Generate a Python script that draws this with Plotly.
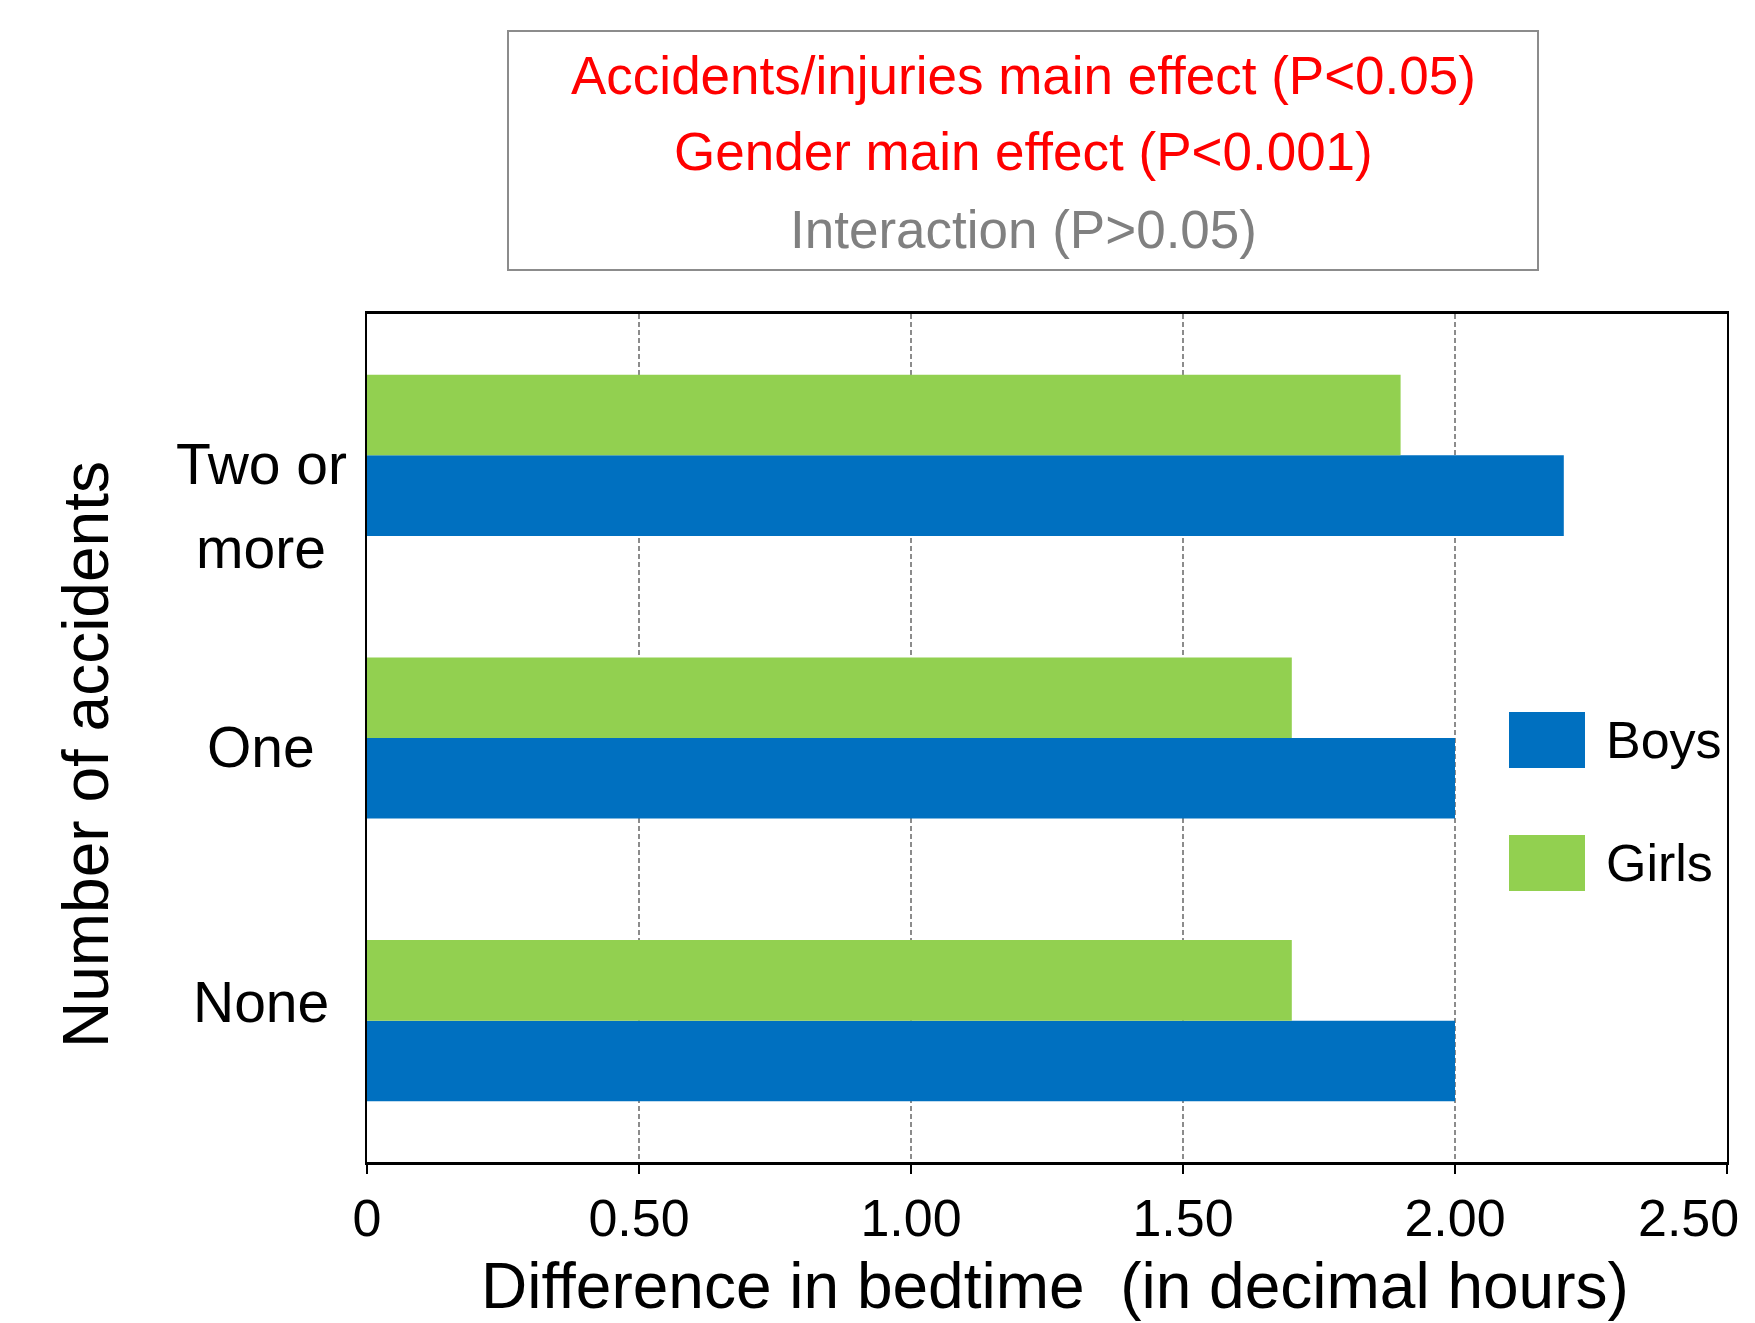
import plotly.graph_objects as go

# ---- data ----
categories = ["None", "One", "Two or more"]
category_labels = ["None", "One", "Two or<br>more"]
boys = [2.00, 2.00, 2.20]
girls = [1.70, 1.70, 1.90]
series_names = ["Boys", "Girls"]
x_tick_vals = [0, 0.5, 1.0, 1.5, 2.0, 2.5]
x_tick_text = ["0", "0.50", "1.00", "1.50", "2.00", "2.50"]
stats_lines = [
    "Accidents/injuries main effect (P<0.05)",
    "Gender main effect (P<0.001)",
    "Interaction (P>0.05)",
]
x_title = "Difference in bedtime  (in decimal hours)"
y_title = "Number of accidents"

BLUE = "#0070C0"
GREEN = "#92D050"
FONT = "Liberation Sans, Arial, sans-serif"

OFF = 8  # page body margin
W, H = 1747, 1315
ML, MR, MT, MB = 359, 28, 306, 161
PW, PH = W - ML - MR, H - MT - MB


def px_x(x):
    return (x - OFF - ML) / PW


def px_y(y):
    return (H - MB - (y - OFF)) / PH


fig = go.Figure()
fig.add_trace(go.Bar(y=categories, x=boys, orientation="h", name=series_names[0],
                     marker=dict(color=BLUE, line=dict(width=0))))
fig.add_trace(go.Bar(y=categories, x=girls, orientation="h", name=series_names[1],
                     marker=dict(color=GREEN, line=dict(width=0))))

fig.update_layout(
    width=W, height=H,
    margin=dict(l=ML, r=MR, t=MT, b=MB, autoexpand=False),
    paper_bgcolor="white", plot_bgcolor="white",
    barmode="group", bargap=0.43, bargroupgap=0,
    showlegend=False,
    font=dict(family=FONT, color="black"),
)

fig.update_xaxes(
    range=[0, 2.5], tickvals=x_tick_vals,
    ticktext=x_tick_text[:-1] + [""],
    tickfont=dict(size=52, family=FONT, color="black"),
    ticks="outside", ticklen=9, tickwidth=1.5, tickcolor="black",
    ticklabelstandoff=0,
    showline=True, linecolor="black", linewidth=2.5, mirror=True,
    showgrid=True, gridcolor="#8c8c8c", gridwidth=1.5, griddash="5px,3px",
    zeroline=False,
)
fig.update_yaxes(
    type="category", categoryorder="array", categoryarray=categories,
    range=[-0.5, 2.5], showticklabels=False, ticks="",
    showline=True, linecolor="black", linewidth=2, mirror=True,
    showgrid=False, zeroline=False,
)

# last tick label shifted inward so it stays on the canvas
fig.add_annotation(x=x_tick_vals[-1], y=0, xref="x", yref="paper",
                   text=x_tick_text[-1], showarrow=False, xanchor="right",
                   yanchor="top", xshift=14, yshift=-25,
                   font=dict(size=52, family=FONT, color="black"))

# category labels (centred, with a wide line spacing)
label_shifts = [19, -9, -51]
LINE_GAP = 84
for cat, lab, sh in zip(categories, category_labels, label_shifts):
    lines = lab.split("<br>")
    n = len(lines)
    for i, line in enumerate(lines):
        off = (i - (n - 1) / 2) * LINE_GAP
        fig.add_annotation(x=px_x(261), y=cat, xref="paper", yref="y", text=line,
                           showarrow=False, xanchor="center", yanchor="middle",
                           yshift=sh - off, align="center",
                           font=dict(size=57, family=FONT, color="black"))

# axis titles
fig.add_annotation(x=px_x(86), y=px_y(755), xref="paper", yref="paper",
                   text=y_title, textangle=-90, showarrow=False,
                   xanchor="center", yanchor="middle",
                   font=dict(size=64, family=FONT, color="black"))
fig.add_annotation(x=px_x(1055), y=px_y(1286), xref="paper", yref="paper",
                   text=x_title, showarrow=False,
                   xanchor="center", yanchor="middle",
                   font=dict(size=64, family=FONT, color="black"))

# statistics box
fig.add_shape(type="rect", xref="paper", yref="paper",
              x0=px_x(508), x1=px_x(1538), y0=px_y(270), y1=px_y(31),
              line=dict(color="#8c8c8c", width=2), fillcolor="white")
stat_colors = ["#FF0000", "#FF0000", "#808080"]
stat_y = [76, 152, 229]
for txt, col, yy in zip(stats_lines, stat_colors, stat_y):
    fig.add_annotation(x=px_x(1023), y=px_y(yy), xref="paper", yref="paper",
                       text=txt, showarrow=False, xanchor="center",
                       yanchor="middle",
                       font=dict(size=53, family=FONT, color=col))

# custom legend
legend_colors = [BLUE, GREEN]
legend_y = [(712, 768), (835, 891)]
for name, col, (y0, y1) in zip(series_names, legend_colors, legend_y):
    fig.add_shape(type="rect", xref="paper", yref="paper",
                  x0=px_x(1509), x1=px_x(1585), y0=px_y(y1), y1=px_y(y0),
                  line=dict(width=0), fillcolor=col)
    fig.add_annotation(x=px_x(1604), y=px_y((y0 + y1) / 2), xref="paper",
                       yref="paper", text=name, showarrow=False,
                       xanchor="left", yanchor="middle",
                       font=dict(size=52, family=FONT, color="black"))

fig.write_html("out.html")
